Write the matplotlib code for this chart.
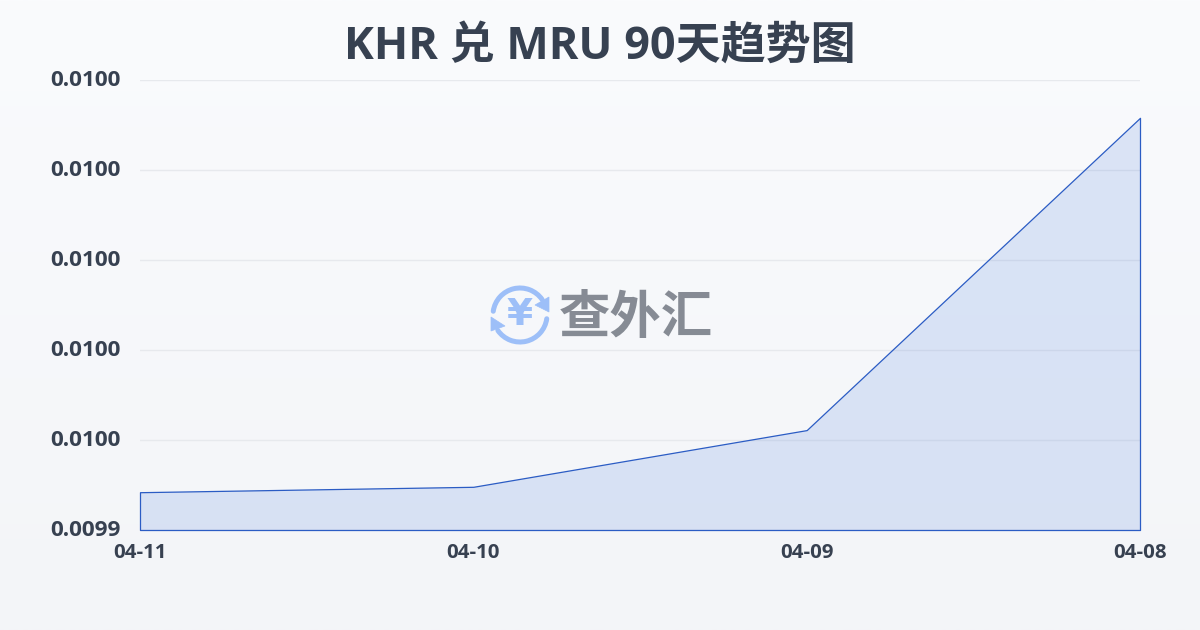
import numpy as np
import matplotlib
matplotlib.use("Agg")
import matplotlib.pyplot as plt
from matplotlib.patches import Arc, Polygon
from matplotlib.transforms import ScaledTranslation

plt.rcParams['font.family'] = ['Open Sans', 'Noto Sans CJK SC', 'DejaVu Sans']

# data, labels only show 4 decimals
dates = ["04-11", "04-10", "04-09", "04-08"]
rates = [0.0099442, 0.0099448, 0.0099511, 0.0099858]
yticks = [0.00994, 0.00995, 0.00996, 0.00997, 0.00998, 0.00999]
title = "KHR 兑 MRU 90天趋势图"
watermark = "查外汇"

text_color = "#374151"
line_color = "#2b5cc4"

fig = plt.figure(figsize=(12, 6.3), dpi=100)

# background gradient
bg = fig.add_axes([0, 0, 1, 1], zorder=0)
top = np.array([0xfa, 0xfb, 0xfd]) / 255
bottom = np.array([0xf3, 0xf5, 0xf8]) / 255
t = np.linspace(0, 1, 256)[:, None, None]
bg.imshow(top + (bottom - top) * t, aspect="auto", extent=[0, 1200, 630, 0])
bg.axis("off")

# plot area is 140..1140 by 80..530 px
ax = fig.add_axes([140 / 1200, 1 - 530 / 630, 1000 / 1200, 450 / 630], zorder=1)
ax.patch.set_alpha(0)
x = np.arange(len(dates))
ax.set_xlim(x[0], x[-1])
ax.set_ylim(yticks[0], yticks[-1])
ax.grid(axis="y", color="#e7e9ed", linewidth=1)
ax.set_axisbelow(True)
ax.fill_between(x, rates, yticks[0], facecolor=(0.20, 0.42, 0.85, 0.15),
                edgecolor=line_color, linewidth=0.9, clip_on=False)
for s in ax.spines.values():
    s.set_visible(False)
ax.set_xticks(x, dates)
ax.set_yticks(yticks, [f"{v:.4f}" for v in yticks])
ax.tick_params(axis="y", length=0, pad=14, labelsize=16.2, labelcolor=text_color)
ax.tick_params(axis="x", length=0, pad=9, labelsize=14.7, labelcolor=text_color)
for lab in ax.get_xticklabels() + ax.get_yticklabels():
    lab.set_fontweight("bold")
# labels sit a bit above their grid lines in the reference
up = ScaledTranslation(0, 2 / 100, fig.dpi_scale_trans)
for lab in ax.get_yticklabels():
    lab.set_transform(lab.get_transform() + up)

fig.text(0.5, 1 - 47 / 630, title, ha="center", va="center", fontsize=32.4,
         fontweight="bold", color=text_color)

# watermark logo, drawn in pixel coordinates
wm = fig.add_axes([0, 0, 1, 1], zorder=2)
wm.set_xlim(0, 1200)
wm.set_ylim(630, 0)
wm.axis("off")
logo = "#9dbff8"
# y axis is flipped here so angles run clockwise on screen
wm.add_patch(Arc((520, 315), 54, 54, theta1=188, theta2=325, color=logo, lw=3.6, capstyle="round"))
wm.add_patch(Arc((520, 315), 54, 54, theta1=8, theta2=145, color=logo, lw=3.6, capstyle="round"))
wm.add_patch(Polygon([(549, 297), (549, 312), (535, 305)], closed=True, fc=logo, ec=logo, lw=0.5))
wm.add_patch(Polygon([(491, 317), (491, 331), (505, 326)], closed=True, fc=logo, ec=logo, lw=0.5))
wm.text(520, 315, "¥", ha="center", va="center", fontsize=27, fontweight="bold", color=logo,
        family="DejaVu Sans")
wm.text(636, 320, watermark, ha="center", va="center", fontsize=37, fontweight="bold", color="#868b94")

fig.savefig("out.png", dpi=100)
